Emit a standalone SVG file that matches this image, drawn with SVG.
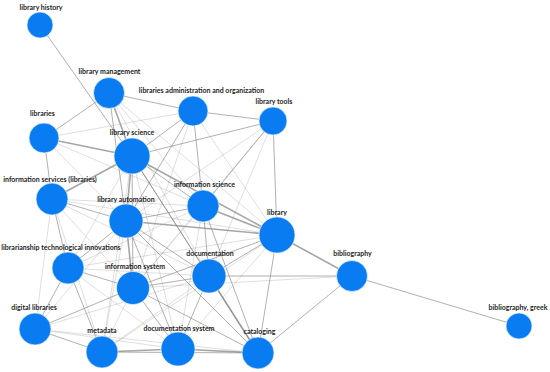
<svg xmlns="http://www.w3.org/2000/svg" width="550" height="372" viewBox="0 0 550 372">
<style>
.e1{stroke:#9a9a9a;stroke-width:0.7;stroke-opacity:0.45;fill:none}
.e2{stroke:#8a8a8a;stroke-width:0.9;stroke-opacity:0.75;fill:none}
.e3{stroke:#808080;stroke-width:1.6;stroke-opacity:0.7;fill:none}
.n circle{fill:#0a7cf1;stroke:#ffffff;stroke-width:0.6}
.n text{font-family:Lato,"Open Sans",sans-serif;font-weight:bold;font-size:7px;fill:#1e1e1e;text-anchor:middle}
</style>
<rect width="550" height="372" fill="#ffffff"/>
<g id="edges">
<line class="e2" x1="40" y1="25" x2="132" y2="156"/>
<line class="e2" x1="109" y1="93" x2="44" y2="138"/>
<line class="e2" x1="109" y1="93" x2="193" y2="111"/>
<line class="e3" x1="109" y1="93" x2="132" y2="156"/>
<line class="e2" x1="109" y1="93" x2="126" y2="221"/>
<line class="e1" x1="109" y1="93" x2="203" y2="206"/>
<line class="e1" x1="109" y1="93" x2="277" y2="235"/>
<line class="e1" x1="109" y1="93" x2="209" y2="276"/>
<line class="e2" x1="193" y1="111" x2="273" y2="121"/>
<line class="e1" x1="193" y1="111" x2="44" y2="138"/>
<line class="e2" x1="193" y1="111" x2="132" y2="156"/>
<line class="e2" x1="193" y1="111" x2="126" y2="221"/>
<line class="e2" x1="193" y1="111" x2="203" y2="206"/>
<line class="e1" x1="193" y1="111" x2="277" y2="235"/>
<line class="e1" x1="193" y1="111" x2="133" y2="288"/>
<line class="e2" x1="273" y1="121" x2="132" y2="156"/>
<line class="e1" x1="273" y1="121" x2="126" y2="221"/>
<line class="e2" x1="273" y1="121" x2="203" y2="206"/>
<line class="e2" x1="273" y1="121" x2="277" y2="235"/>
<line class="e1" x1="273" y1="121" x2="209" y2="276"/>
<line class="e1" x1="273" y1="121" x2="133" y2="288"/>
<line class="e3" x1="44" y1="138" x2="132" y2="156"/>
<line class="e2" x1="44" y1="138" x2="52" y2="199"/>
<line class="e1" x1="44" y1="138" x2="126" y2="221"/>
<line class="e1" x1="44" y1="138" x2="203" y2="206"/>
<line class="e3" x1="132" y1="156" x2="52" y2="199"/>
<line class="e3" x1="132" y1="156" x2="126" y2="221"/>
<line class="e2" x1="132" y1="156" x2="203" y2="206"/>
<line class="e3" x1="132" y1="156" x2="277" y2="235"/>
<line class="e2" x1="132" y1="156" x2="209" y2="276"/>
<line class="e2" x1="132" y1="156" x2="133" y2="288"/>
<line class="e1" x1="132" y1="156" x2="68" y2="268"/>
<line class="e1" x1="132" y1="156" x2="178" y2="349"/>
<line class="e2" x1="132" y1="156" x2="258" y2="353"/>
<line class="e1" x1="132" y1="156" x2="102" y2="352"/>
<line class="e2" x1="52" y1="199" x2="126" y2="221"/>
<line class="e1" x1="52" y1="199" x2="203" y2="206"/>
<line class="e1" x1="52" y1="199" x2="277" y2="235"/>
<line class="e2" x1="52" y1="199" x2="68" y2="268"/>
<line class="e1" x1="52" y1="199" x2="133" y2="288"/>
<line class="e1" x1="52" y1="199" x2="35" y2="329"/>
<line class="e1" x1="52" y1="199" x2="209" y2="276"/>
<line class="e1" x1="52" y1="199" x2="102" y2="352"/>
<line class="e2" x1="126" y1="221" x2="203" y2="206"/>
<line class="e3" x1="126" y1="221" x2="277" y2="235"/>
<line class="e2" x1="126" y1="221" x2="209" y2="276"/>
<line class="e3" x1="126" y1="221" x2="133" y2="288"/>
<line class="e2" x1="126" y1="221" x2="68" y2="268"/>
<line class="e1" x1="126" y1="221" x2="35" y2="329"/>
<line class="e1" x1="126" y1="221" x2="102" y2="352"/>
<line class="e2" x1="126" y1="221" x2="178" y2="349"/>
<line class="e2" x1="126" y1="221" x2="258" y2="353"/>
<line class="e3" x1="203" y1="206" x2="277" y2="235"/>
<line class="e2" x1="203" y1="206" x2="209" y2="276"/>
<line class="e1" x1="203" y1="206" x2="133" y2="288"/>
<line class="e1" x1="203" y1="206" x2="68" y2="268"/>
<line class="e1" x1="203" y1="206" x2="178" y2="349"/>
<line class="e2" x1="203" y1="206" x2="258" y2="353"/>
<line class="e2" x1="277" y1="235" x2="209" y2="276"/>
<line class="e3" x1="277" y1="235" x2="352" y2="276"/>
<line class="e2" x1="277" y1="235" x2="133" y2="288"/>
<line class="e1" x1="277" y1="235" x2="178" y2="349"/>
<line class="e2" x1="277" y1="235" x2="258" y2="353"/>
<line class="e1" x1="277" y1="235" x2="102" y2="352"/>
<line class="e1" x1="277" y1="235" x2="68" y2="268"/>
<line class="e2" x1="209" y1="276" x2="352" y2="276"/>
<line class="e2" x1="209" y1="276" x2="133" y2="288"/>
<line class="e2" x1="209" y1="276" x2="178" y2="349"/>
<line class="e3" x1="209" y1="276" x2="258" y2="353"/>
<line class="e1" x1="209" y1="276" x2="102" y2="352"/>
<line class="e1" x1="209" y1="276" x2="68" y2="268"/>
<line class="e1" x1="209" y1="276" x2="35" y2="329"/>
<line class="e2" x1="352" y1="276" x2="519" y2="326"/>
<line class="e2" x1="352" y1="276" x2="258" y2="353"/>
<line class="e1" x1="352" y1="276" x2="133" y2="288"/>
<line class="e2" x1="68" y1="268" x2="133" y2="288"/>
<line class="e2" x1="68" y1="268" x2="35" y2="329"/>
<line class="e2" x1="68" y1="268" x2="102" y2="352"/>
<line class="e1" x1="68" y1="268" x2="178" y2="349"/>
<line class="e2" x1="133" y1="288" x2="35" y2="329"/>
<line class="e1" x1="133" y1="288" x2="102" y2="352"/>
<line class="e2" x1="133" y1="288" x2="178" y2="349"/>
<line class="e2" x1="133" y1="288" x2="258" y2="353"/>
<line class="e2" x1="35" y1="329" x2="102" y2="352"/>
<line class="e1" x1="35" y1="329" x2="178" y2="349"/>
<line class="e1" x1="35" y1="329" x2="258" y2="353"/>
<line class="e3" x1="102" y1="352" x2="178" y2="349"/>
<line class="e2" x1="102" y1="352" x2="258" y2="353"/>
<line class="e3" x1="178" y1="349" x2="258" y2="353"/>
</g>
<g id="n-library-history" class="n"><circle cx="40" cy="25" r="13"/><text x="41" y="9.5">library history</text></g>
<g id="n-library-management" class="n"><circle cx="109" cy="93" r="15.5"/><text x="109.5" y="74">library management</text></g>
<g id="n-libraries-administration" class="n"><circle cx="193" cy="111" r="15"/><text x="201.5" y="92.5">libraries administration and organization</text></g>
<g id="n-library-tools" class="n"><circle cx="273" cy="121" r="14"/><text x="274" y="104">library tools</text></g>
<g id="n-libraries" class="n"><circle cx="44" cy="138" r="15"/><text x="42.5" y="116">libraries</text></g>
<g id="n-library-science" class="n"><circle cx="132" cy="156" r="18"/><text x="132" y="134.5">library science</text></g>
<g id="n-information-services" class="n"><circle cx="52" cy="199" r="16"/><text x="50" y="182">information services (libraries)</text></g>
<g id="n-library-automation" class="n"><circle cx="126" cy="221" r="17"/><text x="126" y="202">library automation</text></g>
<g id="n-information-science" class="n"><circle cx="203" cy="206" r="16"/><text x="204.5" y="187">information science</text></g>
<g id="n-library" class="n"><circle cx="277" cy="235" r="18"/><text x="277" y="215">library</text></g>
<g id="n-documentation" class="n"><circle cx="209" cy="276" r="17"/><text x="210" y="256">documentation</text></g>
<g id="n-bibliography" class="n"><circle cx="352" cy="276" r="15.5"/><text x="352.5" y="256">bibliography</text></g>
<g id="n-bibliography-greek" class="n"><circle cx="519" cy="326" r="13"/><text x="518" y="310">bibliography, greek</text></g>
<g id="n-librarianship" class="n"><circle cx="68" cy="268" r="16"/><text x="61" y="249.5">librarianship technological innovations</text></g>
<g id="n-information-system" class="n"><circle cx="133" cy="288" r="16.5"/><text x="135" y="269">information system</text></g>
<g id="n-digital-libraries" class="n"><circle cx="35" cy="329" r="16"/><text x="34" y="310">digital libraries</text></g>
<g id="n-metadata" class="n"><circle cx="102" cy="352" r="16"/><text x="102" y="333">metadata</text></g>
<g id="n-documentation-system" class="n"><circle cx="178" cy="349" r="17"/><text x="179" y="331">documentation system</text></g>
<g id="n-cataloging" class="n"><circle cx="258" cy="353" r="16"/><text x="259.5" y="334">cataloging</text></g>
</svg>
